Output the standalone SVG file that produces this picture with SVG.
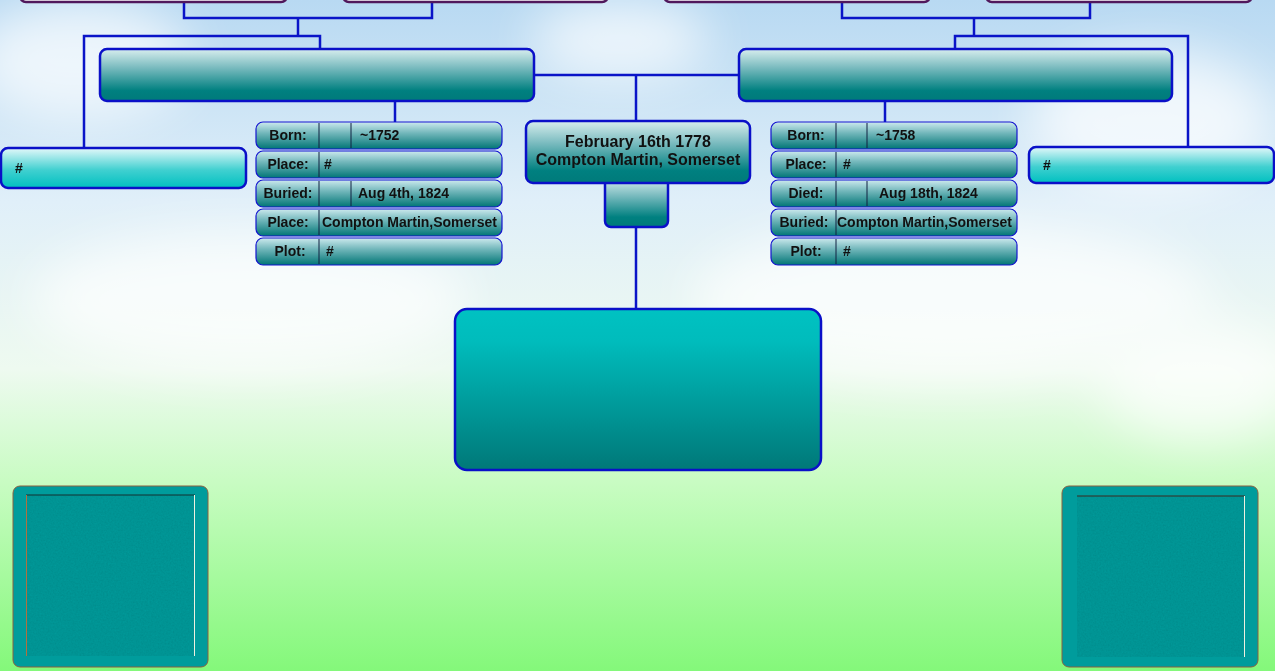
<svg xmlns="http://www.w3.org/2000/svg" width="1275" height="671" viewBox="0 0 1275 671">
<defs>
<linearGradient id="bg" x1="0" y1="0" x2="0" y2="1">
<stop offset="0" stop-color="#b8d9f2"/>
<stop offset="0.3" stop-color="#e0eff9"/>
<stop offset="0.55" stop-color="#eefaf0"/>
<stop offset="0.72" stop-color="#c8fcc2"/>
<stop offset="1" stop-color="#84f87a"/>
</linearGradient>
<linearGradient id="parent" x1="0" y1="0" x2="0" y2="1">
<stop offset="0" stop-color="#d8eeee"/>
<stop offset="0.35" stop-color="#7cbcc0"/>
<stop offset="0.8" stop-color="#008080"/>
<stop offset="1" stop-color="#007a7a"/>
</linearGradient>
<linearGradient id="row" x1="0" y1="0" x2="0" y2="1">
<stop offset="0" stop-color="#cdeaee"/>
<stop offset="0.4" stop-color="#74b8bc"/>
<stop offset="1" stop-color="#007575"/>
</linearGradient>
<linearGradient id="side" x1="0" y1="0" x2="0" y2="1">
<stop offset="0" stop-color="#e4f8fa"/>
<stop offset="0.55" stop-color="#40d0d0"/>
<stop offset="1" stop-color="#00c0c0"/>
</linearGradient>
<linearGradient id="big" x1="0" y1="0" x2="0" y2="1">
<stop offset="0" stop-color="#00c2c2"/>
<stop offset="0.2" stop-color="#00bcbc"/>
<stop offset="1" stop-color="#007878"/>
</linearGradient>
<filter id="blur" x="-50%" y="-50%" width="200%" height="200%"><feGaussianBlur stdDeviation="25"/></filter>
<filter id="noise" x="0" y="0" width="100%" height="100%">
<feTurbulence type="fractalNoise" baseFrequency="0.6" numOctaves="2" seed="3" result="n"/>
<feColorMatrix in="n" type="matrix" values="0 0 0 0 0  0 0 0 0 0.45  0 0 0 0 0.45  0 0 0 0.35 0" result="c"/>
<feComposite in="c" in2="SourceGraphic" operator="in" result="t"/>
<feMerge><feMergeNode in="SourceGraphic"/><feMergeNode in="t"/></feMerge>
</filter>
<style>
.conn{fill:none;stroke:#0a14c8;stroke-width:2.5}
.pbox{fill:url(#parent);stroke:#0a10c8;stroke-width:2.5}
.row{fill:url(#row);stroke:#1414d0;stroke-width:1.2}
.div{stroke:#102040;stroke-width:1}
.side{fill:url(#side);stroke:#0a10c8;stroke-width:2.5}
.top{fill:#ffffff;stroke:#50185c;stroke-width:2.5}
.t{font-family:"Liberation Sans",Arial,sans-serif;font-weight:bold;font-size:14px;fill:#111}
.c{text-anchor:middle}
.tc{font-family:"Liberation Sans",Arial,sans-serif;font-weight:bold;font-size:16px;fill:#111;text-anchor:middle}
</style>
</defs>
<rect x="0" y="0" width="1275" height="671" fill="url(#bg)"/>
<g opacity="0.7">
<ellipse cx="80" cy="60" rx="110" ry="60" fill="#ffffff" filter="url(#blur)"/>
<ellipse cx="250" cy="300" rx="220" ry="70" fill="#ffffff" filter="url(#blur)"/>
<ellipse cx="950" cy="300" rx="260" ry="80" fill="#ffffff" filter="url(#blur)"/>
<ellipse cx="1150" cy="120" rx="120" ry="70" fill="#ffffff" filter="url(#blur)"/>
<ellipse cx="620" cy="40" rx="90" ry="40" fill="#ffffff" filter="url(#blur)"/>
<ellipse cx="1200" cy="380" rx="100" ry="60" fill="#ffffff" filter="url(#blur)"/>
</g>

<g id="connectors">
<polyline class="conn" points="184,2 184,18 432,18 432,2"/>
<polyline class="conn" points="298,18 298,36"/>
<polyline class="conn" points="84,148 84,36 320,36 320,49"/>
<polyline class="conn" points="842,2 842,18 1090,18 1090,2"/>
<polyline class="conn" points="974,18 974,36"/>
<polyline class="conn" points="955,49 955,36 1188,36 1188,147"/>
<polyline class="conn" points="534,75 739,75"/>
<polyline class="conn" points="636,75 636,121"/>
<polyline class="conn" points="395,101 395,122"/>
<polyline class="conn" points="885,101 885,122"/>
<polyline class="conn" points="636,227 636,309"/>
</g>

<g id="gp1"><rect class="top" x="20" y="-20" width="267" height="22" rx="6"/></g>
<g id="gp2"><rect class="top" x="343" y="-20" width="265" height="22" rx="6"/></g>
<g id="gp3"><rect class="top" x="664" y="-20" width="266" height="22" rx="6"/></g>
<g id="gp4"><rect class="top" x="986" y="-20" width="266" height="22" rx="6"/></g>

<g id="father"><rect class="pbox" x="100" y="49" width="434" height="52" rx="7"/></g>
<g id="mother"><rect class="pbox" x="739" y="49" width="433" height="52" rx="7"/></g>

<g id="sibling-left"><rect class="side" x="1" y="148" width="245" height="40" rx="7"/><text class="t" x="15" y="173">#</text></g>
<g id="sibling-right"><rect class="side" x="1029" y="147" width="245" height="36" rx="7"/><text class="t" x="1043" y="170">#</text></g>

<g id="father-info">
<rect class="row" x="256" y="122" width="246" height="27" rx="7"/>
<line class="div" x1="319" y1="123" x2="319" y2="148"/><line class="div" x1="351" y1="123" x2="351" y2="148"/>
<text class="t c" x="288" y="140">Born:</text><text class="t" x="360" y="140">~1752</text>
<rect class="row" x="256" y="151" width="246" height="27" rx="7"/>
<line class="div" x1="319" y1="152" x2="319" y2="177"/>
<text class="t c" x="288" y="169">Place:</text><text class="t" x="324" y="169">#</text>
<rect class="row" x="256" y="180" width="246" height="27" rx="7"/>
<line class="div" x1="319" y1="181" x2="319" y2="206"/><line class="div" x1="351" y1="181" x2="351" y2="206"/>
<text class="t c" x="288" y="198">Buried:</text><text class="t" x="358" y="198">Aug 4th, 1824</text>
<rect class="row" x="256" y="209" width="246" height="27" rx="7"/>
<line class="div" x1="319" y1="210" x2="319" y2="235"/>
<text class="t c" x="288" y="227">Place:</text><text class="t" x="322" y="227">Compton Martin,Somerset</text>
<rect class="row" x="256" y="238" width="246" height="27" rx="7"/>
<line class="div" x1="319" y1="239" x2="319" y2="264"/>
<text class="t c" x="290" y="256">Plot:</text><text class="t" x="326" y="256">#</text>
</g>

<g id="mother-info">
<rect class="row" x="771" y="122" width="246" height="27" rx="7"/>
<line class="div" x1="836" y1="123" x2="836" y2="148"/><line class="div" x1="867" y1="123" x2="867" y2="148"/>
<text class="t c" x="806" y="140">Born:</text><text class="t" x="876" y="140">~1758</text>
<rect class="row" x="771" y="151" width="246" height="27" rx="7"/>
<line class="div" x1="836" y1="152" x2="836" y2="177"/>
<text class="t c" x="806" y="169">Place:</text><text class="t" x="843" y="169">#</text>
<rect class="row" x="771" y="180" width="246" height="27" rx="7"/>
<line class="div" x1="836" y1="181" x2="836" y2="206"/><line class="div" x1="867" y1="181" x2="867" y2="206"/>
<text class="t c" x="806" y="198">Died:</text><text class="t" x="879" y="198">Aug 18th, 1824</text>
<rect class="row" x="771" y="209" width="246" height="27" rx="7"/>
<line class="div" x1="836" y1="210" x2="836" y2="235"/>
<text class="t c" x="804" y="227">Buried:</text><text class="t" x="837" y="227">Compton Martin,Somerset</text>
<rect class="row" x="771" y="238" width="246" height="27" rx="7"/>
<line class="div" x1="836" y1="239" x2="836" y2="264"/>
<text class="t c" x="806" y="256">Plot:</text><text class="t" x="843" y="256">#</text>
</g>

<g id="child">
<rect class="pbox" x="605" y="178" width="63" height="49" rx="6"/>
<rect class="pbox" x="526" y="121" width="224" height="62" rx="7"/>
<text class="tc" x="638" y="147">February 16th 1778</text>
<text class="tc" x="638" y="165">Compton Martin, Somerset</text>
</g>

<g id="spouse"><rect x="455" y="309" width="366" height="161" rx="12" fill="url(#big)" stroke="#0a10c8" stroke-width="2.5"/></g>

<g id="photo-left">
<rect x="13" y="486" width="195" height="181" rx="7" fill="#009c9c" stroke="#8a6040" stroke-width="1"/>
<rect x="26" y="495" width="169" height="161" fill="#008c8c" filter="url(#noise)"/>
<line x1="26" y1="495" x2="195" y2="495" stroke="#123030" stroke-width="1.2"/>
<line x1="26.5" y1="495" x2="26.5" y2="656" stroke="#b07040" stroke-width="1"/>
<line x1="194.5" y1="495" x2="194.5" y2="656" stroke="#f0f0e0" stroke-width="1"/>
</g>
<g id="photo-right">
<rect x="1062" y="486" width="196" height="181" rx="7" fill="#009c9c" stroke="#8a6040" stroke-width="1"/>
<rect x="1077" y="496" width="168" height="161" fill="#008c8c" filter="url(#noise)"/>
<line x1="1077" y1="496" x2="1245" y2="496" stroke="#3a2a20" stroke-width="1.2"/>
<line x1="1244.5" y1="496" x2="1244.5" y2="657" stroke="#f0f0e0" stroke-width="1"/>
</g>
</svg>
